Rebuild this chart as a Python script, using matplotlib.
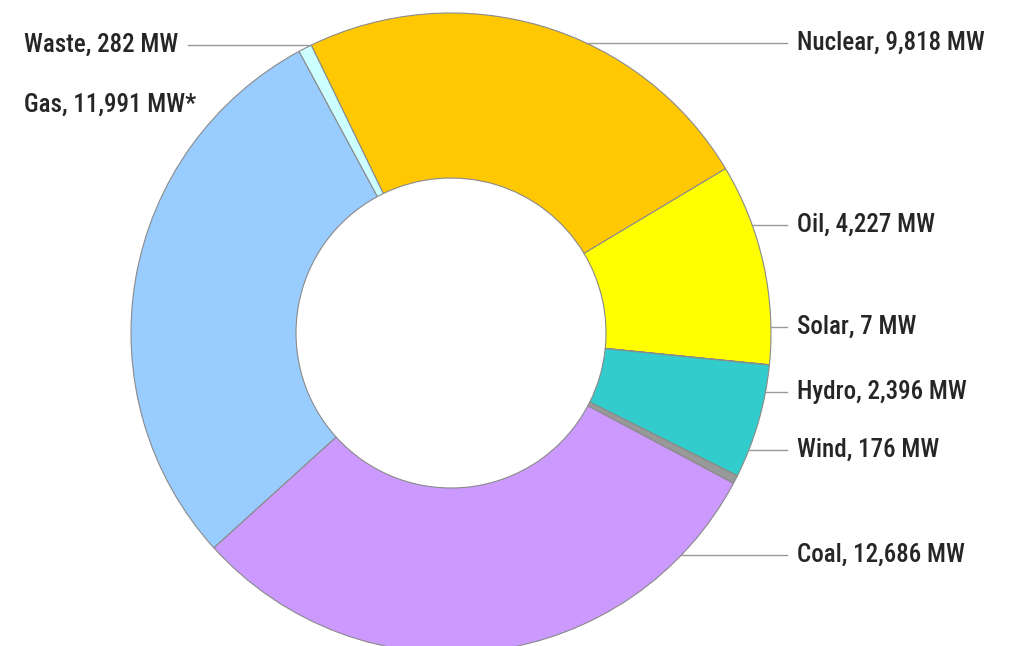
import numpy as np
import matplotlib.pyplot as plt

# Installed capacity by fuel, clockwise from the top
labels = ['Nuclear', 'Oil', 'Solar', 'Hydro', 'Wind', 'Coal', 'Gas', 'Waste']
capacity_mw = [9818, 4227, 7, 2396, 176, 12686, 11991, 282]
label_text = ['Nuclear, 9,818 MW', 'Oil, 4,227 MW', 'Solar, 7 MW',
              'Hydro, 2,396 MW', 'Wind, 176 MW', 'Coal, 12,686 MW',
              'Gas, 11,991 MW*', 'Waste, 282 MW']
colors = ['#FFC800', '#FFFF00', '#FFFF66', '#33CCCC', '#999999',
          '#CC99FF', '#99CCFF', '#CCFFFF']

W, H = 1009, 646
cx, cy = 451, H - 333
r_out, ring = 320, 165

fig = plt.figure(figsize=(W / 100, H / 100), dpi=100)
ax = fig.add_axes([0, 0, 1, 1])

ax.pie(capacity_mw, colors=colors, startangle=115.9, counterclock=False,
       radius=r_out, center=(cx, cy),
       wedgeprops=dict(width=ring, edgecolor='#8a8a8a', linewidth=0.8))

ax.set_xlim(0, W)
ax.set_ylim(0, H)
ax.set_aspect('equal')
ax.axis('off')

font = dict(family=['Roboto Condensed', 'Liberation Sans'], fontsize=18,
            fontweight='medium', color='#262626')


def ring_x(y_img, side):
    # x where a horizontal line at this height meets the outer edge
    dy = (H - y_img) - cy
    dx = np.sqrt(max(r_out ** 2 - dy ** 2, 0))
    return cx + side * dx


# right-hand labels with leader lines
right_rows = {'Nuclear': 43, 'Oil': 225, 'Solar': 327, 'Hydro': 392,
              'Wind': 450, 'Coal': 555}
for name, y in right_rows.items():
    i = labels.index(name)
    ax.plot([ring_x(y, 1), 787], [H - y, H - y], color='#9a9a9a', lw=1.0)
    ax.text(797, H - y, label_text[i], ha='left', va='center', **font)

# left-hand labels
ax.plot([188, 310], [H - 45, H - 45], color='#9a9a9a', lw=1.0)
ax.text(178, H - 45, label_text[labels.index('Waste')], ha='right',
        va='center', **font)
ax.text(196, H - 105, label_text[labels.index('Gas')], ha='right',
        va='center', **font)

fig.savefig('out.png', dpi=100)
